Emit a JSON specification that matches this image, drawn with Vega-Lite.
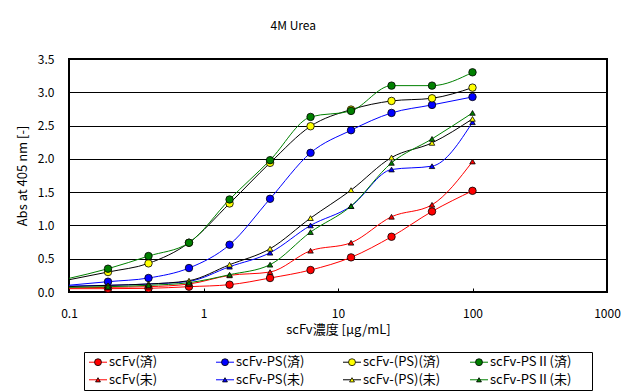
{
  "$schema": "https://vega.github.io/schema/vega-lite/v6.json",
  "autosize": {"type": "pad"},
  "padding": {"left": 15, "top": 20, "right": 19, "bottom": 0},
  "background": "white",
  "title": {"text": "4M Urea", "anchor": "middle", "fontSize": 12, "fontWeight": "normal", "font": "Noto Sans CJK JP", "color": "black", "offset": 19, "dx": -25},
  "config": {
    "view": {"stroke": "black", "strokeWidth": 2, "fill": "white"},
    "font": "Noto Sans CJK JP"
  },
  "spacing": 60,
  "bounds": "flush",
  "center": true,
  "resolve": {"scale": {"fill": "independent", "shape": "independent", "color": "independent", "stroke": "independent", "size": "independent"}},
  "datasets": {
    "pts": [
      {"c": 0.0977, "s": "scFv(済)", "v": 0.05}, {"c": 0.195, "s": "scFv(済)", "v": 0.05}, {"c": 0.39, "s": "scFv(済)", "v": 0.055}, {"c": 0.78, "s": "scFv(済)", "v": 0.08}, {"c": 1.5625, "s": "scFv(済)", "v": 0.11}, {"c": 3.125, "s": "scFv(済)", "v": 0.21}, {"c": 6.25, "s": "scFv(済)", "v": 0.33}, {"c": 12.5, "s": "scFv(済)", "v": 0.52}, {"c": 25, "s": "scFv(済)", "v": 0.83}, {"c": 50, "s": "scFv(済)", "v": 1.21}, {"c": 100, "s": "scFv(済)", "v": 1.52},
      {"c": 0.0977, "s": "scFv-PS(済)", "v": 0.10}, {"c": 0.195, "s": "scFv-PS(済)", "v": 0.155}, {"c": 0.39, "s": "scFv-PS(済)", "v": 0.21}, {"c": 0.78, "s": "scFv-PS(済)", "v": 0.36}, {"c": 1.5625, "s": "scFv-PS(済)", "v": 0.71}, {"c": 3.125, "s": "scFv-PS(済)", "v": 1.40}, {"c": 6.25, "s": "scFv-PS(済)", "v": 2.09}, {"c": 12.5, "s": "scFv-PS(済)", "v": 2.43}, {"c": 25, "s": "scFv-PS(済)", "v": 2.69}, {"c": 50, "s": "scFv-PS(済)", "v": 2.81}, {"c": 100, "s": "scFv-PS(済)", "v": 2.93},
      {"c": 0.0977, "s": "scFv-(PS)(済)", "v": 0.18}, {"c": 0.195, "s": "scFv-(PS)(済)", "v": 0.30}, {"c": 0.39, "s": "scFv-(PS)(済)", "v": 0.43}, {"c": 0.78, "s": "scFv-(PS)(済)", "v": 0.74}, {"c": 1.5625, "s": "scFv-(PS)(済)", "v": 1.33}, {"c": 3.125, "s": "scFv-(PS)(済)", "v": 1.94}, {"c": 6.25, "s": "scFv-(PS)(済)", "v": 2.49}, {"c": 12.5, "s": "scFv-(PS)(済)", "v": 2.74}, {"c": 25, "s": "scFv-(PS)(済)", "v": 2.87}, {"c": 50, "s": "scFv-(PS)(済)", "v": 2.91}, {"c": 100, "s": "scFv-(PS)(済)", "v": 3.07},
      {"c": 0.0977, "s": "scFv-PSⅡ(済)", "v": 0.20}, {"c": 0.195, "s": "scFv-PSⅡ(済)", "v": 0.35}, {"c": 0.39, "s": "scFv-PSⅡ(済)", "v": 0.54}, {"c": 0.78, "s": "scFv-PSⅡ(済)", "v": 0.74}, {"c": 1.5625, "s": "scFv-PSⅡ(済)", "v": 1.39}, {"c": 3.125, "s": "scFv-PSⅡ(済)", "v": 1.98}, {"c": 6.25, "s": "scFv-PSⅡ(済)", "v": 2.63}, {"c": 12.5, "s": "scFv-PSⅡ(済)", "v": 2.72}, {"c": 25, "s": "scFv-PSⅡ(済)", "v": 3.10}, {"c": 50, "s": "scFv-PSⅡ(済)", "v": 3.10}, {"c": 100, "s": "scFv-PSⅡ(済)", "v": 3.30},
      {"c": 0.0977, "s": "scFv(未)", "v": 0.06}, {"c": 0.195, "s": "scFv(未)", "v": 0.07}, {"c": 0.39, "s": "scFv(未)", "v": 0.08}, {"c": 0.78, "s": "scFv(未)", "v": 0.12}, {"c": 1.5625, "s": "scFv(未)", "v": 0.25}, {"c": 3.125, "s": "scFv(未)", "v": 0.30}, {"c": 6.25, "s": "scFv(未)", "v": 0.62}, {"c": 12.5, "s": "scFv(未)", "v": 0.74}, {"c": 25, "s": "scFv(未)", "v": 1.13}, {"c": 50, "s": "scFv(未)", "v": 1.31}, {"c": 100, "s": "scFv(未)", "v": 1.96},
      {"c": 0.0977, "s": "scFv-PS(未)", "v": 0.09}, {"c": 0.195, "s": "scFv-PS(未)", "v": 0.10}, {"c": 0.39, "s": "scFv-PS(未)", "v": 0.12}, {"c": 0.78, "s": "scFv-PS(未)", "v": 0.16}, {"c": 1.5625, "s": "scFv-PS(未)", "v": 0.38}, {"c": 3.125, "s": "scFv-PS(未)", "v": 0.59}, {"c": 6.25, "s": "scFv-PS(未)", "v": 1.00}, {"c": 12.5, "s": "scFv-PS(未)", "v": 1.29}, {"c": 25, "s": "scFv-PS(未)", "v": 1.84}, {"c": 50, "s": "scFv-PS(未)", "v": 1.89}, {"c": 100, "s": "scFv-PS(未)", "v": 2.55},
      {"c": 0.0977, "s": "scFv-(PS)(未)", "v": 0.08}, {"c": 0.195, "s": "scFv-(PS)(未)", "v": 0.10}, {"c": 0.39, "s": "scFv-(PS)(未)", "v": 0.12}, {"c": 0.78, "s": "scFv-(PS)(未)", "v": 0.17}, {"c": 1.5625, "s": "scFv-(PS)(未)", "v": 0.41}, {"c": 3.125, "s": "scFv-(PS)(未)", "v": 0.65}, {"c": 6.25, "s": "scFv-(PS)(未)", "v": 1.11}, {"c": 12.5, "s": "scFv-(PS)(未)", "v": 1.53}, {"c": 25, "s": "scFv-(PS)(未)", "v": 2.02}, {"c": 50, "s": "scFv-(PS)(未)", "v": 2.24}, {"c": 100, "s": "scFv-(PS)(未)", "v": 2.60},
      {"c": 0.0977, "s": "scFv-PSⅡ(未)", "v": 0.07}, {"c": 0.195, "s": "scFv-PSⅡ(未)", "v": 0.08}, {"c": 0.39, "s": "scFv-PSⅡ(未)", "v": 0.10}, {"c": 0.78, "s": "scFv-PSⅡ(未)", "v": 0.14}, {"c": 1.5625, "s": "scFv-PSⅡ(未)", "v": 0.26}, {"c": 3.125, "s": "scFv-PSⅡ(未)", "v": 0.41}, {"c": 6.25, "s": "scFv-PSⅡ(未)", "v": 0.90}, {"c": 12.5, "s": "scFv-PSⅡ(未)", "v": 1.29}, {"c": 25, "s": "scFv-PSⅡ(未)", "v": 1.94}, {"c": 50, "s": "scFv-PSⅡ(未)", "v": 2.30}, {"c": 100, "s": "scFv-PSⅡ(未)", "v": 2.69}
    ],
    "leg": [
      {"s": "scFv(済)", "grp": "scFv", "state": "済"},
      {"s": "scFv-PS(済)", "grp": "scFv-PS", "state": "済"},
      {"s": "scFv-(PS)(済)", "grp": "scFv-(PS)", "state": "済"},
      {"s": "scFv-PSⅡ(済)", "grp": "scFv-PSⅡ", "state": "済"},
      {"s": "scFv(未)", "grp": "scFv", "state": "未"},
      {"s": "scFv-PS(未)", "grp": "scFv-PS", "state": "未"},
      {"s": "scFv-(PS)(未)", "grp": "scFv-(PS)", "state": "未"},
      {"s": "scFv-PSⅡ(未)", "grp": "scFv-PSⅡ", "state": "未"}
    ]
  },
  "vconcat": [
    {
      "width": 538,
      "height": 233,
      "data": {"name": "pts"},
      "encoding": {
        "x": {"field": "c", "type": "quantitative",
          "scale": {"type": "log", "domain": [0.1, 1000], "nice": false},
          "axis": {"values": [0.1, 1, 10, 100, 1000], "format": "~g", "grid": false, "domain": false, "labelFlush": false,
            "tickSize": -4, "tickColor": "black", "labelPadding": 20, "labelFontSize": 12, "labelColor": "black", "labelFont": "Noto Sans CJK JP",
            "title": "scFv濃度 [μg/mL]", "titleFontSize": 13, "titleFontWeight": "normal", "titleColor": "black", "titleFont": "Noto Sans CJK JP", "titlePadding": 4}},
        "y": {"field": "v", "type": "quantitative",
          "scale": {"domain": [0, 3.5], "nice": false},
          "axis": {"values": [0, 0.5, 1, 1.5, 2, 2.5, 3, 3.5], "format": ".1f", "grid": true, "gridColor": "black", "gridOpacity": 1, "gridWidth": 1,
            "ticks": false, "domain": false, "labelPadding": 15, "labelFontSize": 12, "labelColor": "black", "labelFont": "Noto Sans CJK JP",
            "title": "Abs at 405 nm [-]", "titleFontSize": 13, "titleFontWeight": "normal", "titleColor": "black", "titleFont": "Noto Sans CJK JP", "titlePadding": 8}}
      },
      "layer": [
        {
          "mark": {"type": "line", "interpolate": "monotone", "strokeWidth": 1, "clip": true},
          "encoding": {
            "detail": {"field": "s"},
            "stroke": {"field": "s", "type": "nominal", "legend": null,
              "scale": {"domain": ["scFv(済)", "scFv-PS(済)", "scFv-(PS)(済)", "scFv-PSⅡ(済)", "scFv(未)", "scFv-PS(未)", "scFv-(PS)(未)", "scFv-PSⅡ(未)"],
                "range": ["#FF0000", "#0000FF", "#000000", "#008000", "#FF0000", "#0000FF", "#000000", "#008000"]}}
          }
        },
        {
          "transform": [{"filter": "datum.c > 0.1"}],
          "mark": {"type": "point", "filled": true, "stroke": "black", "strokeWidth": 0.8, "opacity": 1},
          "encoding": {
            "fill": {"field": "s", "type": "nominal", "legend": null,
              "scale": {"domain": ["scFv(済)", "scFv-PS(済)", "scFv-(PS)(済)", "scFv-PSⅡ(済)", "scFv(未)", "scFv-PS(未)", "scFv-(PS)(未)", "scFv-PSⅡ(未)"],
                "range": ["#FF0000", "#0000FF", "#FFFF00", "#008000", "#FF0000", "#0000FF", "#FFFF00", "#008000"]}},
            "shape": {"field": "s", "type": "nominal", "legend": null,
              "scale": {"domain": ["scFv(済)", "scFv-PS(済)", "scFv-(PS)(済)", "scFv-PSⅡ(済)", "scFv(未)", "scFv-PS(未)", "scFv-(PS)(未)", "scFv-PSⅡ(未)"],
                "range": ["circle", "circle", "circle", "circle", "triangle-up", "triangle-up", "triangle-up", "triangle-up"]}},
            "size": {"condition": {"test": "indexof(datum.s, '済') >= 0", "value": 56}, "value": 30}
          }
        }
      ]
    },
    {
      "width": 508,
      "height": 38,
      "view": {"stroke": "black", "strokeWidth": 1, "fill": "white"},
      "data": {"name": "leg"},
      "encoding": {
        "x": {"field": "grp", "type": "nominal", "bandPosition": 0, "axis": null,
          "scale": {"type": "band", "domain": ["scFv", "scFv-PS", "scFv-(PS)", "scFv-PSⅡ"], "paddingInner": 0, "paddingOuter": 0}},
        "y": {"field": "state", "type": "nominal", "axis": null,
          "scale": {"type": "band", "domain": ["済", "未"], "paddingInner": 0, "paddingOuter": 0.08}}
      },
      "layer": [
        {
          "mark": {"type": "point", "shape": "stroke", "size": 324, "strokeWidth": 1, "filled": false, "opacity": 1, "xOffset": 14},
          "encoding": {
            "color": {"field": "s", "type": "nominal", "legend": null,
              "scale": {"domain": ["scFv(済)", "scFv-PS(済)", "scFv-(PS)(済)", "scFv-PSⅡ(済)", "scFv(未)", "scFv-PS(未)", "scFv-(PS)(未)", "scFv-PSⅡ(未)"],
                "range": ["#FF0000", "#0000FF", "#000000", "#008000", "#FF0000", "#0000FF", "#000000", "#008000"]}}
          }
        },
        {
          "mark": {"type": "point", "filled": true, "stroke": "black", "strokeWidth": 0.8, "opacity": 1, "xOffset": 14},
          "encoding": {
            "fill": {"field": "s", "type": "nominal", "legend": null,
              "scale": {"domain": ["scFv(済)", "scFv-PS(済)", "scFv-(PS)(済)", "scFv-PSⅡ(済)", "scFv(未)", "scFv-PS(未)", "scFv-(PS)(未)", "scFv-PSⅡ(未)"],
                "range": ["#FF0000", "#0000FF", "#FFFF00", "#008000", "#FF0000", "#0000FF", "#FFFF00", "#008000"]}},
            "shape": {"field": "s", "type": "nominal", "legend": null,
              "scale": {"domain": ["scFv(済)", "scFv-PS(済)", "scFv-(PS)(済)", "scFv-PSⅡ(済)", "scFv(未)", "scFv-PS(未)", "scFv-(PS)(未)", "scFv-PSⅡ(未)"],
                "range": ["circle", "circle", "circle", "circle", "triangle-up", "triangle-up", "triangle-up", "triangle-up"]}},
            "size": {"condition": {"test": "indexof(datum.s, '済') >= 0", "value": 48}, "value": 24}
          }
        },
        {
          "mark": {"type": "text", "align": "left", "baseline": "middle", "dx": 25, "fontSize": 13, "font": "Noto Sans CJK JP", "color": "black"},
          "encoding": {
            "text": {"field": "s", "type": "nominal"}
          }
        }
      ]
    }
  ]
}
